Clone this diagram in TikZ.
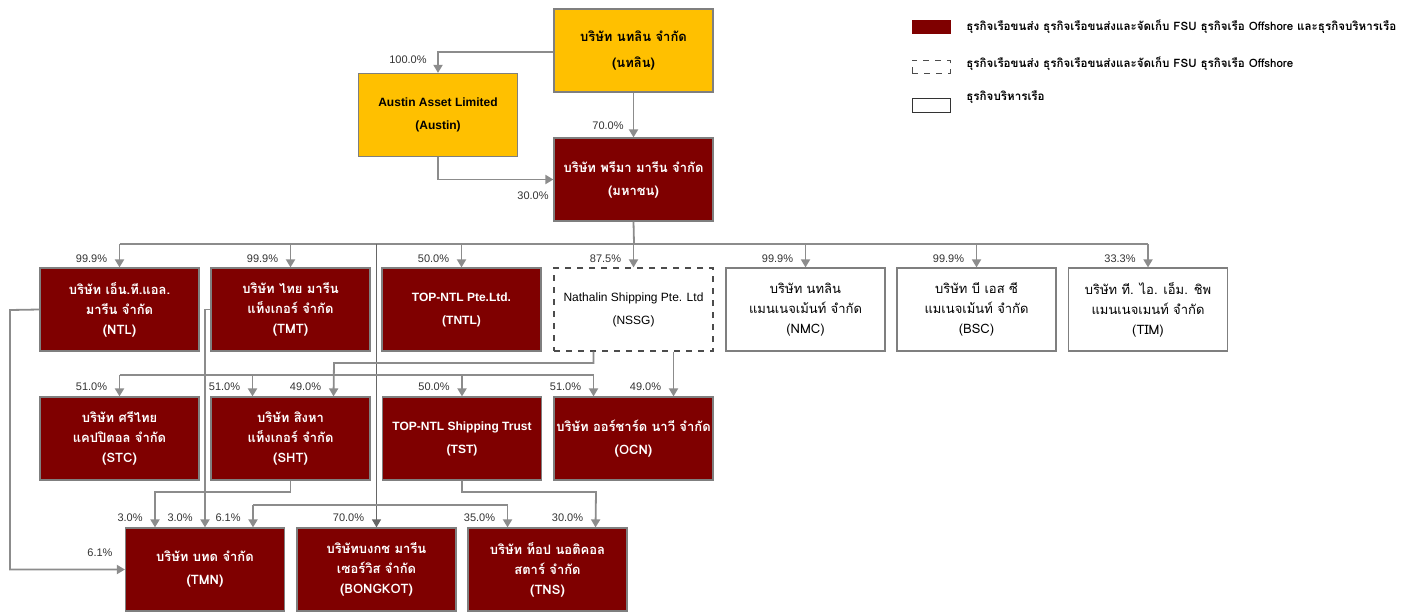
\documentclass[tikz,border=0pt]{standalone}
\usepackage{fontspec}
\setmainfont{Liberation Sans}
\newfontfamily\thaifont[Script=Thai]{Loma}
\usetikzlibrary{arrows.meta}
\definecolor{shipred}{HTML}{7F0000}
\definecolor{gold}{HTML}{FFC000}
\definecolor{linegray}{HTML}{8C8C8C}
\definecolor{boxgray}{HTML}{7F7F7F}

\begin{document}
\begin{tikzpicture}[x=0.5pt,y=-0.5pt,
	company/.style={draw=boxgray,line width=0.6pt,minimum width=79.5pt,minimum height=41.5pt,
		inner sep=1pt,align=center},
	redco/.style={company,fill=shipred,text=white,font=\thaifont\bfseries\fontsize{6.5}{10}\selectfont},
	goldco/.style={company,fill=gold,text=black,font=\thaifont\bfseries\fontsize{6.5}{10}\selectfont},
	mgmtco/.style={company,fill=white,text=black,font=\thaifont\fontsize{6.5}{10}\selectfont},
	offco/.style={mgmtco,dashed,draw=black!70},
	latin/.style={font=\bfseries\fontsize{6}{10}\selectfont},
	pct/.style={anchor=east,inner sep=0pt,text=black!80,font=\fontsize{5.5}{7}\selectfont},
	link/.style={draw=linegray,line width=0.9pt},
	arr/.style={link,-{Triangle[width=4.5pt,length=4pt]}},
	legend/.style={anchor=west,inner sep=0pt,font=\thaifont\bfseries\fontsize{5.8}{8}\selectfont}]
	\useasboundingbox (0,0) rectangle (1416,615);

	% top level
	\node[goldco] (nathalin) at (633.5,50.5) {บริษัท นทลิน จำกัด\\[3pt](นทลิน)};
	\node[goldco,latin] (austin) at (438,115) {Austin Asset Limited\\[1.5pt](Austin)};
	\node[redco] (prm) at (633.5,179.5) {บริษัท พรีมา มารีน จำกัด\\[1.5pt](มหาชน)};

	% second row
	\node[redco] (ntl) at (119.5,309.5) {บริษัท เอ็น.ที.แอล.\\มารีน จำกัด\\(NTL)};
	\node[redco] (tmt) at (290.5,309.5) {บริษัท ไทย มารีน\\แท็งเกอร์ จำกัด\\(TMT)};
	\node[redco,latin] (tntl) at (461.5,309.5) {TOP-NTL Pte.Ltd.\\[1.5pt](TNTL)};
	\node[offco,font=\fontsize{6}{10}\selectfont] (nssg) at (633.5,309.5) {Nathalin Shipping Pte. Ltd\\[1.5pt](NSSG)};
	\node[mgmtco] (nmc) at (805.5,309.5) {บริษัท นทลิน\\แมนเนจเม้นท์ จำกัด\\(NMC)};
	\node[mgmtco] (bsc) at (976.5,309.5) {บริษัท บี เอส ซี\\แมเนจเม้นท์ จำกัด\\(BSC)};
	\node[mgmtco] (tim) at (1148,309.5) {บริษัท ที. ไอ. เอ็ม. ชิพ\\แมนเนจเมนท์ จำกัด\\(TIM)};

	% third row
	\node[redco] (stc) at (119.5,438.5) {บริษัท ศรีไทย\\แคปปิตอล จำกัด\\(STC)};
	\node[redco] (sht) at (290.5,438.5) {บริษัท สิงหา\\แท็งเกอร์ จำกัด\\(SHT)};
	\node[redco,latin] (tst) at (462,438.5) {TOP-NTL Shipping Trust\\[1.5pt](TST)};
	\node[redco] (ocn) at (633.5,438.5) {บริษัท ออร์ชาร์ด นาวี จำกัด\\[1.5pt](OCN)};

	% fourth row
	\node[redco] (tmn) at (205,569.5) {บริษัท บทด จำกัด\\[1.5pt](TMN)};
	\node[redco] (bongkot) at (376.5,569.5) {บริษัทบงกช มารีน\\เซอร์วิส จำกัด\\(BONGKOT)};
	\node[redco] (tns) at (547.5,569.5) {บริษัท ท็อป นอติคอล\\สตาร์ จำกัด\\(TNS)};

	% legend
	\node[fill=shipred,draw=shipred,minimum width=19pt,minimum height=6.5pt,inner sep=0pt] (keyred) at (931,27) {};
	\node[draw=black!70,dashed,minimum width=19pt,minimum height=6.5pt,inner sep=0pt] (keyoff) at (931,67) {};
	\node[draw=black!80,minimum width=19pt,minimum height=7pt,inner sep=0pt] (keymgmt) at (931,105) {};
	\node[legend] at (966,27) {ธุรกิจเรือขนส่ง ธุรกิจเรือขนส่งและจัดเก็บ FSU ธุรกิจเรือ Offshore และธุรกิจบริหารเรือ};
	\node[legend] at (966,64) {ธุรกิจเรือขนส่ง ธุรกิจเรือขนส่งและจัดเก็บ FSU ธุรกิจเรือ Offshore};
	\node[legend] at (966,97) {ธุรกิจบริหารเรือ};

	% top holdings
	\draw[arr] (nathalin.west |- 0,52) -| (austin.north);
	\node[pct] at (427,60) {100.0\%};
	\draw[arr] (nathalin.south) -- (prm.north);
	\node[pct] at (624,126) {70.0\%};
	\draw[arr] (austin.south) |- (prm.west);
	\node[pct] at (549,196) {30.0\%};

	% bus below prima marine
	\coordinate (prmbus) at (634,244);
	\draw[link] (prm.south) -- (prmbus);
	\draw[link] (ntl.north |- prmbus) -- (tim.north |- prmbus);
	\foreach \Co/\Pc in {ntl/99.9,tmt/99.9,tntl/50.0,nssg/87.5,nmc/99.9,bsc/99.9,tim/33.3}
	{
		\draw[arr] (\Co.north |- prmbus) -- (\Co.north);
		\node[pct] at ([xshift=-6pt,yshift=4.5pt]\Co.north) {\Pc\%};
	}
	\draw[draw=black!60,line width=0.6pt,-{Triangle[width=4.5pt,length=4pt]},fill=linegray]
		(bongkot.north |- prmbus) -- (bongkot.north);
	\node[pct] at ([xshift=-6pt,yshift=5pt]bongkot.north) {70.0\%};

	% third row holdings
	\coordinate (rowbus) at (376,375);
	\draw[link] (stc.north |- rowbus) -- ([xshift=-20pt]ocn.north |- rowbus);
	\foreach \To/\Dx/\Pc in {stc/0/51.0,sht/-19/51.0,tst/0/50.0,ocn/-20/51.0}
	{
		\draw[arr] ([xshift=\Dx pt]\To.north |- rowbus) -- ([xshift=\Dx pt]\To.north);
		\node[pct] at ([xshift=\Dx pt-6pt,yshift=5pt]\To.north) {\Pc\%};
	}
	\draw[arr] ([xshift=-20pt]nssg.south) |- (334,363) -- ([xshift=21.5pt]sht.north);
	\node[pct] at ([xshift=15.5pt,yshift=5pt]sht.north) {49.0\%};
	\draw[arr] ([xshift=20pt]nssg.south) -- ([xshift=20pt]ocn.north);
	\node[pct] at ([xshift=14pt,yshift=5pt]ocn.north) {49.0\%};

	% fourth row holdings
	\draw[arr] (ntl.west) -- (10,310) |- (tmn.west);
	\node[pct] at ([xshift=-6pt,yshift=8.5pt]tmn.west) {6.1\%};
	\draw[arr] (tmt.west) -| (tmn.north);
	\node[pct] at ([xshift=-6pt,yshift=5pt]tmn.north) {3.0\%};
	\draw[arr] (sht.south) |- (155,492) -- ([xshift=-25pt]tmn.north);
	\node[pct] at ([xshift=-31pt,yshift=5pt]tmn.north) {3.0\%};
	\draw[arr] (tst.south) |- (596,492) -- ([xshift=24pt]tns.north);
	\node[pct] at ([xshift=18pt,yshift=5pt]tns.north) {30.0\%};
	\draw[arr] (253,505) -- ([xshift=24pt]tmn.north);
	\draw[arr] (253,505) -| ([xshift=-20pt]tns.north);
	\node[pct] at ([xshift=18pt,yshift=5pt]tmn.north) {6.1\%};
	\node[pct] at ([xshift=-26pt,yshift=5pt]tns.north) {35.0\%};
\end{tikzpicture}
\end{document}
